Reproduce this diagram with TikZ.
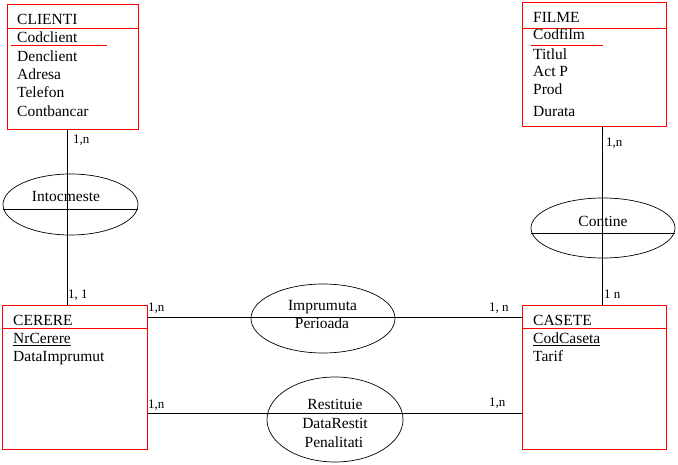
\documentclass[tikz,border=0pt]{standalone}
\usepackage{fontspec}
\setmainfont{Liberation Serif}
\usetikzlibrary{shapes.geometric}
\begin{document}
\begin{tikzpicture}[x=1pt,y=-1pt,
  ent/.style={draw=red,line width=1pt,rectangle,inner sep=0pt},
  rel/.style={draw,line width=0.7pt,ellipse,inner sep=0pt},
  attr/.style={anchor=base west,inner sep=0pt,font=\fontsize{15.5}{18}\selectfont},
  rtxt/.style={anchor=base,inner sep=0pt,font=\fontsize{15.5}{18}\selectfont},
  card/.style={anchor=base west,inner sep=0pt,font=\fontsize{13}{15}\selectfont},
  conn/.style={draw,line width=0.9pt},
  divr/.style={draw=red,line width=1pt}]
\useasboundingbox (0,0) rectangle (678,465);
% entities
\node[ent,minimum width=131,minimum height=125] (clienti) at (72.5,67.5) {};
\node[ent,minimum width=144,minimum height=124] (filme) at (594,65) {};
\node[ent,minimum width=145,minimum height=143] (cerere) at (74.5,377.5) {};
\node[ent,minimum width=144,minimum height=143] (casete) at (594,377.5) {};
% relationships
\node[rel,minimum width=135,minimum height=61] (intoc) at (70.5,204.5) {};
\node[rel,minimum width=144,minimum height=60] (contine) at (603,228) {};
\node[rel,minimum width=144,minimum height=69] (impr) at (323,318.5) {};
\node[rel,minimum width=136,minimum height=85] (rest) at (335,419.5) {};
% dividers
\draw[divr] (clienti.west |- 0,29) -- (clienti.east |- 0,29);
\draw[divr] (11,46) -- (107,46);
\draw[divr] (filme.west |- 0,29) -- (filme.east |- 0,29);
\draw[divr] (531,46) -- (603,46);
\draw[divr] (cerere.west |- 0,329) -- (cerere.east |- 0,329);
\draw[divr] (casete.west |- 0,329) -- (casete.east |- 0,329);
\draw[conn] ([yshift=-4.5pt]intoc.west) -- ([yshift=-4.5pt]intoc.east);
\draw[conn] ([yshift=-5pt]contine.west) -- ([yshift=-5pt]contine.east);
% connectors
\draw[conn] (clienti.south -| 67,0) -- (cerere.north -| 67,0);
\draw[conn] (filme.south -| 602.5,0) -- (casete.north -| 602.5,0);
\draw[conn] (cerere.east |- 0,317) -- (casete.west |- 0,317);
\draw[conn] (cerere.east |- 0,413) -- (casete.west |- 0,413);
% entity texts
\node[attr] at (17,25) {CLIENTI};
\node[attr] at (17,43) {Codclient};
\node[attr] at (17,62) {Denclient};
\node[attr] at (17,80) {Adresa};
\node[attr] at (17,98) {Telefon};
\node[attr] at (17,117) {Contbancar};
\node[attr] at (533,23) {FILME};
\node[attr] at (533,40) {Codfilm};
\node[attr] at (533,60) {Titlul};
\node[attr] at (533,77) {Act P};
\node[attr] at (533,95) {Prod};
\node[attr] at (533,117) {Durata};
\node[attr] at (13,326) {CERERE};
\node[attr] at (13,344) {\underline{NrCerere}};
\node[attr] at (13,362) {DataImprumut};
\node[attr] at (533,326) {CASETE};
\node[attr] at (533,344) {\underline{CodCaseta}};
\node[attr] at (533,362) {Tarif};
% relationship texts
\node[rtxt] at (66,202) {Intocmeste};
\node[rtxt] at (603,227) {Contine};
\node[rtxt] at (322.5,311) {Imprumuta};
\node[rtxt] at (322,329) {Perioada};
\node[rtxt] at (335,409) {Restituie};
\node[rtxt] at (335,428) {DataRestit};
\node[rtxt] at (334,447) {Penalitati};
% cardinalities
\node[card] at (73,144) {1,n};
\node[card] at (606,147) {1,n};
\node[card] at (68,299) {1, 1};
\node[card] at (148,312) {1,n};
\node[card] at (148,408) {1,n};
\node[card] at (489,312) {1, n};
\node[card] at (489,406) {1,n};
\node[card] at (604,299) {1 n};
\end{tikzpicture}
\end{document}
